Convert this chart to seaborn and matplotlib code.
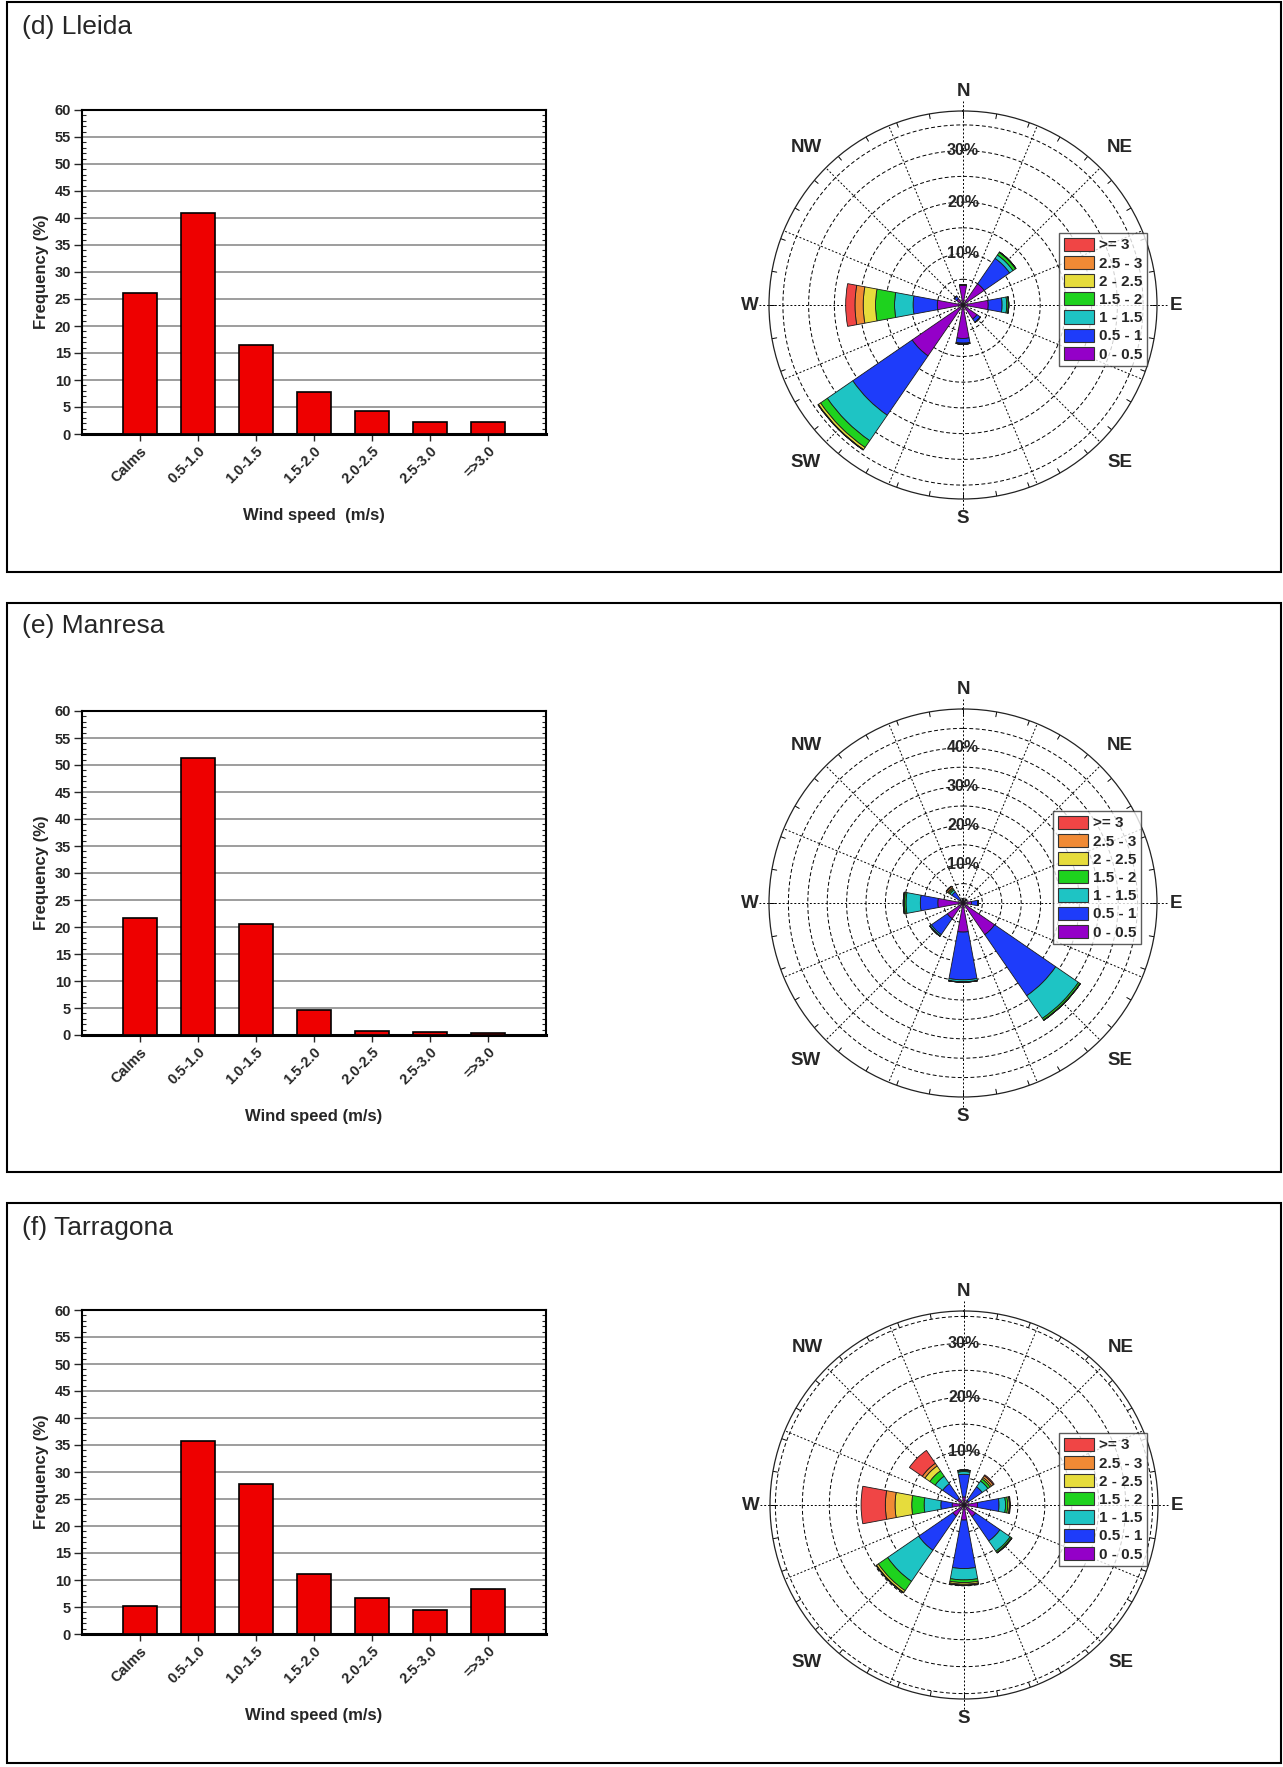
import numpy as np
import pandas as pd
import seaborn as sns
import matplotlib.pyplot as plt
from matplotlib.patches import Rectangle, Patch
from matplotlib.ticker import MultipleLocator

# figure size in pixels (dpi 100)
W, H = 1283, 1767

sns.set_theme(style='white')
plt.rcParams['font.family'] = ['Liberation Sans', 'DejaVu Sans']

# --- wind speed histograms ---
speed_bins = ['Calms', '0.5-1.0', '1.0-1.5', '1.5-2.0', '2.0-2.5', '2.5-3.0', '=>3.0']
freq_lleida = [26.2, 41.0, 16.4, 7.7, 4.2, 2.3, 2.2]
freq_manresa = [21.6, 51.3, 20.5, 4.6, 0.8, 0.6, 0.4]
freq_tarragona = [5.1, 35.7, 27.8, 11.2, 6.6, 4.4, 8.4]

# --- wind roses: one row per speed class, columns = directions ---
directions = ['N', 'NE', 'E', 'SE', 'S', 'SW', 'W', 'NW']
dir_angles = [0, 45, 90, 135, 180, 225, 270, 315]
classes = ['0 - 0.5', '0.5 - 1', '1 - 1.5', '1.5 - 2', '2 - 2.5', '2.5 - 3', '>= 3']
class_colors = ['#9400C8', '#1E3CFA', '#1EC4C4', '#1ED21E', '#E6DC3C', '#F08A35', '#F04545']

rose_lleida = [
    [3.9, 5.0, 4.9, 3.3, 6.5, 12.0, 5.0, 1.5],
    [0.0, 6.0, 2.7, 0.8, 0.9, 14.0, 4.7, 0.6],
    [0.0, 0.8, 0.9, 0.0, 0.1, 6.0, 3.6, 0.0],
    [0.0, 0.6, 0.3, 0.0, 0.1, 1.6, 3.7, 0.0],
    [0.0, 0.1, 0.1, 0.0, 0.0, 0.5, 2.4, 0.0],
    [0.0, 0.0, 0.0, 0.0, 0.0, 0.1, 1.6, 0.0],
    [0.0, 0.0, 0.0, 0.0, 0.0, 0.0, 1.8, 0.0],
]
rose_manresa = [
    [0.8, 1.0, 2.2, 9.9, 7.5, 4.9, 6.5, 1.0],
    [0.3, 0.2, 1.7, 19.1, 12.3, 5.0, 4.5, 2.5],
    [0.0, 0.0, 0.0, 7.1, 0.5, 0.4, 3.7, 0.6],
    [0.0, 0.0, 0.0, 0.5, 0.1, 0.1, 0.4, 0.4],
    [0.0, 0.0, 0.0, 0.1, 0.0, 0.0, 0.2, 0.3],
    [0.0, 0.0, 0.0, 0.0, 0.0, 0.0, 0.1, 0.4],
    [0.0, 0.0, 0.0, 0.0, 0.0, 0.0, 0.0, 0.1],
]
rose_tarragona = [
    [1.5, 1.0, 2.5, 2.6, 2.8, 2.5, 2.2, 1.5],
    [4.2, 3.1, 4.0, 5.5, 9.0, 7.7, 2.1, 3.3],
    [0.5, 1.3, 1.2, 2.3, 2.1, 7.0, 3.1, 1.7],
    [0.2, 0.5, 0.4, 0.3, 0.5, 2.1, 2.3, 1.2],
    [0.1, 0.3, 0.3, 0.1, 0.3, 0.4, 3.1, 1.1],
    [0.0, 0.4, 0.1, 0.0, 0.2, 0.1, 1.8, 0.6],
    [0.0, 0.2, 0.1, 0.0, 0.0, 0.0, 4.5, 2.9],
]

fig = plt.figure(figsize=(W / 100, H / 100), dpi=100)


def frac(left, top, width, height):
    # pixel box (from top-left) -> figure fraction
    return [left / W, 1 - (top + height) / H, width / W, height / H]


def bar_panel(top, values, xlabel):
    ax = fig.add_axes(frac(82, top, 464, 324))
    df = pd.DataFrame({'bin': speed_bins, 'freq': values})
    sns.barplot(data=df, x='bin', y='freq', color='#EE0000', saturation=1,
                edgecolor='black', linewidth=1.2, width=0.6, ax=ax, zorder=3)
    ax.set_xlim(-1.0, 7.0)
    ax.set_ylim(0, 60)
    ax.set_yticks(range(0, 61, 5))
    ax.yaxis.set_minor_locator(MultipleLocator(1))
    ax.grid(axis='y', which='major', color='#8c8c8c', lw=1.2)
    ax.set_axisbelow(True)
    for s in ax.spines.values():
        s.set_color('black')
        s.set_linewidth(1.5)
    ax.spines['bottom'].set_linewidth(2.2)
    ax.tick_params(axis='y', which='major', left=True, length=6, width=1,
                   direction='out', labelsize=10.5, pad=2)
    ax.tick_params(axis='y', which='minor', left=True, right=True, length=3, width=0.8,
                   direction='in')
    ax.tick_params(axis='x', bottom=True, length=5, width=1, labelsize=10.5, pad=2)
    for lab in ax.get_yticklabels():
        lab.set_fontweight('bold')
    plt.setp(ax.get_xticklabels(), rotation=45, ha='right', rotation_mode='anchor',
             fontweight='bold')
    ax.set_xlabel(xlabel, fontsize=12, fontweight='bold', labelpad=16)
    ax.set_ylabel('Frequency (%)', fontsize=12, fontweight='bold', labelpad=4)
    return ax


def rose_panel(cx, cy, data, rmax, ring_labels, legend_xy):
    R = 194
    ax = fig.add_axes(frac(cx - R, cy - R, 2 * R, 2 * R), projection='polar')
    ax.set_theta_zero_location('N')
    ax.set_theta_direction(-1)
    ax.set_ylim(0, rmax)
    ax.grid(False)
    ax.set_xticks([])
    ax.set_yticks([])
    ax.spines['polar'].set_linewidth(0.9)
    ax.spines['polar'].set_color('#222222')

    t = np.linspace(0, 2 * np.pi, 400)
    for r in range(5, int(rmax) + 1, 5):
        if r < rmax - 0.3:
            ax.plot(t, np.full_like(t, r), ls=(0, (4, 2.5)), color='black', lw=0.7, zorder=1)
    for a in np.arange(0, 360, 22.5):
        ext = 1.05 if a % 90 == 0 else 1.0
        ax.plot([np.deg2rad(a)] * 2, [0, rmax * ext], ls=(0, (2, 2)), color='black',
                lw=0.7, zorder=1, clip_on=False)
    for a in range(0, 360, 10):
        ax.plot([np.deg2rad(a)] * 2, [rmax * 0.975, rmax], color='black', lw=0.7, zorder=1)

    theta = np.deg2rad(dir_angles)
    bottom = np.zeros(len(directions))
    for k, cls in enumerate(classes):
        vals = np.array(data[k])
        ax.bar(theta, vals, width=np.deg2rad(21), bottom=bottom, color=class_colors[k],
               edgecolor='#1a1a1a', linewidth=0.6, zorder=3)
        bottom += vals

    for r in ring_labels:
        ax.text(0, r, f'{r}%', ha='center', va='center', fontsize=11.5,
                fontweight='bold', zorder=4)

    for name, a in zip(directions, dir_angles):
        rl = rmax * (1.10 if a % 90 == 0 else 1.145)
        ax.text(np.deg2rad(a), rl, name, ha='center', va='center', fontsize=13.5,
                fontweight='bold', clip_on=False)

    handles = [Patch(facecolor=c, edgecolor='#333333', lw=0.8) for c in class_colors[::-1]]
    leg = fig.legend(handles, classes[::-1], loc='upper left',
                     bbox_to_anchor=(legend_xy[0] / W, 1 - legend_xy[1] / H),
                     frameon=True, fancybox=False, prop={'weight': 'bold', 'size': 11},
                     handlelength=2.0, handleheight=0.95, labelspacing=0.22,
                     borderpad=0.3, handletextpad=0.3, borderaxespad=0)
    leg.get_frame().set_edgecolor('#333333')
    leg.get_frame().set_linewidth(1.0)
    return ax


# panel frames and titles
panels = [
    ('(d) Lleida', 2, 572, 34),
    ('(e) Manresa', 603, 1172, 633),
    ('(f) Tarragona', 1203, 1763, 1235),
]
for title, top, bottom, base in panels:
    fig.patches.append(Rectangle((7 / W, 1 - bottom / H), 1274 / W, (bottom - top) / H,
                                 transform=fig.transFigure, fill=False,
                                 edgecolor='black', lw=1.5))
    fig.text(22 / W, 1 - base / H, title, fontsize=19, va='baseline', ha='left')

bar_panel(110, freq_lleida, 'Wind speed  (m/s)')
bar_panel(711, freq_manresa, 'Wind speed (m/s)')
bar_panel(1310, freq_tarragona, 'Wind speed (m/s)')

rose_panel(963, 305, rose_lleida, 37.7, [10, 20, 30], (1059, 233))
rose_panel(963, 903, rose_manresa, 50.0, [10, 20, 30, 40], (1053, 811))
rose_panel(964, 1505, rose_tarragona, 36.0, [10, 20, 30], (1059, 1433))

fig.savefig('out.png', dpi=100, facecolor='white')
